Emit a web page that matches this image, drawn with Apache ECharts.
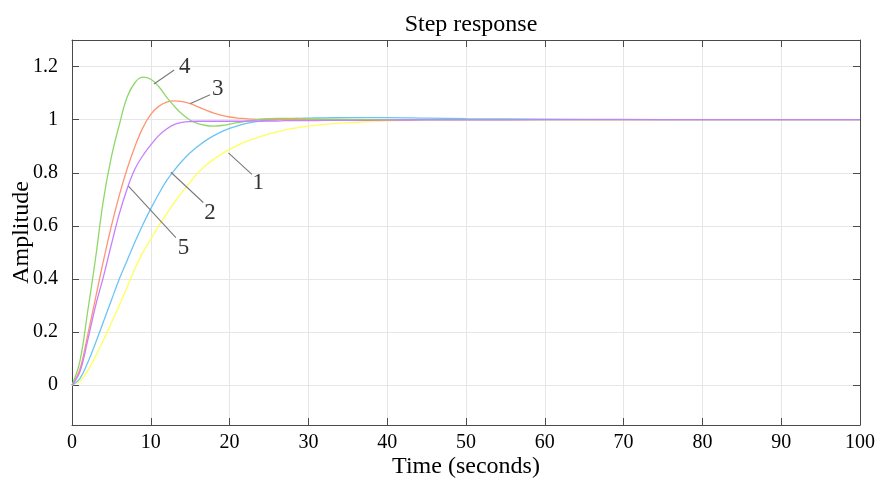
<!DOCTYPE html>
<html>
<head>
<meta charset="utf-8">
<script src="https://cdn.jsdelivr.net/npm/echarts@6/dist/echarts.min.js"></script>
<style>html,body{margin:0;padding:0;background:#fff}#chart{width:886px;height:480px}</style>
</head>
<body>
<div id="chart"></div>
<script>
const times = [0,1,2,3,4,5,6,7,8,9,10,11,12,13,14,15,16,17,18,19,20,21,22,23,24,25,26,27,28,29,30,32,35,40,45,50,60,70,80,90,100];
const resp1 = [0,0.015,0.055,0.11,0.17,0.235,0.30,0.37,0.44,0.50,0.55,0.60,0.645,0.688,0.728,0.765,0.80,0.828,0.851,0.871,0.888,0.903,0.916,0.927,0.937,0.946,0.954,0.961,0.967,0.972,0.976,0.982,0.989,0.995,0.998,0.999,1.0,1.0,1.0,1.0,1.0];
const resp2 = [0,0.025,0.085,0.16,0.24,0.32,0.40,0.47,0.54,0.605,0.665,0.72,0.77,0.81,0.845,0.875,0.90,0.922,0.94,0.955,0.967,0.977,0.985,0.991,0.995,0.998,1.0,1.002,1.004,1.005,1.006,1.007,1.008,1.008,1.006,1.004,1.002,1.001,1.0,1.0,1.0];
const resp3 = [0,0.06,0.19,0.33,0.47,0.60,0.715,0.815,0.90,0.97,1.02,1.05,1.066,1.071,1.068,1.06,1.048,1.036,1.025,1.016,1.01,1.006,1.004,1.002,1.001,1.001,1.001,1.001,1.001,1.0,1.0,1.0,1.0,1.0,1.0,1.0,1.0,1.0,1.0,1.0,1.0];
const resp4 = [0,0.09,0.28,0.48,0.70,0.86,0.98,1.085,1.14,1.16,1.152,1.125,1.085,1.05,1.02,0.998,0.985,0.978,0.976,0.978,0.983,0.989,0.994,0.998,1.002,1.004,1.005,1.005,1.005,1.004,1.003,1.002,1.001,1.0,1.0,1.0,1.0,1.0,1.0,1.0,1.0];
const resp5 = [0,0.05,0.17,0.30,0.41,0.53,0.645,0.74,0.815,0.865,0.905,0.94,0.965,0.982,0.99,0.993,0.994,0.994,0.994,0.994,0.994,0.994,0.994,0.995,0.995,0.995,0.995,0.996,0.996,0.996,0.996,0.997,0.997,0.998,0.999,0.999,1.0,1.0,1.0,1.0,1.0];

const curveNames = ['1','2','3','4','5'];
const curveColors = ['#ffff5a','#6cc4f5','#ff9670','#8ed869','#c77eff'];
const curveValues = [resp1, resp2, resp3, resp4, resp5];

// annotation leaders
const annoLabels = ['4','3','1','2','5'];
const annoStart = [[10.4,1.134],[14.97,1.060],[19.85,0.875],[12.55,0.802],[7.16,0.750]];
const annoEnd = [[12.97,1.187],[17.52,1.094],[22.83,0.794],[16.66,0.688],[13.18,0.556]];
const annoText = [[14.3,1.20],[18.5,1.115],[23.65,0.762],[17.5,0.650],[14.15,0.515]];

const FONT = 'Liberation Serif';
const AX = '#4a4a4a';

const series = [];
[0,1,2,3,4].forEach(i => {
  series.push({
    type: 'line', name: curveNames[i], smooth: 0.4, symbol: 'none',
    xAxisIndex: 0, yAxisIndex: 0,
    lineStyle: { color: curveColors[i], width: 1.3 },
    data: times.map((t, k) => [t, curveValues[i][k]]),
    z: 3
  });
});
annoLabels.forEach((lab, i) => {
  series.push({
    type: 'line', symbol: 'none', xAxisIndex: 0, yAxisIndex: 0,
    lineStyle: { color: '#7a7a7a', width: 1.1 },
    data: [annoStart[i], annoEnd[i]], z: 4, silent: true
  });
});
series.push({
  type: 'scatter', symbolSize: 0, xAxisIndex: 0, yAxisIndex: 0, z: 5,
  data: annoLabels.map((lab, i) => ({ name: lab, value: annoText[i] })),
  label: { show: true, position: 'inside', formatter: '{b}', fontFamily: FONT, fontSize: 23, color: '#000' }
});

const axisLineCommon = { show: true, onZero: false, lineStyle: { color: AX, width: 1 } };
const tickCommon = { show: true, inside: true, length: 7, lineStyle: { color: AX, width: 1 } };

const option = {
  backgroundColor: '#fff',
  animation: false,
  title: {
    text: 'Step response', left: 466, top: 8, textAlign: 'center',
    textStyle: { fontFamily: FONT, fontSize: 24, fontWeight: 'normal', color: '#000' }
  },
  grid: { left: 72, right: 26, top: 40, bottom: 55, containLabel: false, outerBoundsMode: 'none' },
  xAxis: [
    {
      type: 'value', min: 0, max: 100, interval: 10, position: 'bottom',
      axisLine: axisLineCommon, axisTick: tickCommon,
      axisLabel: { color: '#000', fontFamily: FONT, fontSize: 20, margin: 8 },
      splitLine: { show: true, lineStyle: { color: '#e6e6e6', width: 1 } },
      name: 'Time (seconds)', nameLocation: 'middle', nameGap: 30, nameMoveOverlap: false,
      nameTextStyle: { fontFamily: FONT, fontSize: 24, color: '#000' }
    },
    {
      type: 'value', min: 0, max: 100, interval: 10, position: 'top',
      axisLine: axisLineCommon, axisTick: tickCommon,
      axisLabel: { show: false }, splitLine: { show: false }
    }
  ],
  yAxis: [
    {
      type: 'value', min: -0.15, max: 1.3, splitNumber: 7, position: 'left',
      axisLine: axisLineCommon, axisTick: tickCommon,
      axisLabel: { color: '#000', fontFamily: FONT, fontSize: 20, margin: 14, showMinLabel: false, showMaxLabel: false },
      splitLine: { show: true, lineStyle: { color: '#e6e6e6', width: 1 } },
      name: 'Amplitude', nameLocation: 'middle', nameGap: 38, nameMoveOverlap: false,
      nameTextStyle: { fontFamily: FONT, fontSize: 24, color: '#000' }
    },
    {
      type: 'value', min: -0.15, max: 1.3, splitNumber: 7, position: 'right',
      axisLine: axisLineCommon, axisTick: tickCommon,
      axisLabel: { show: false }, splitLine: { show: false }
    }
  ],
  series: series
};

const chart = echarts.init(document.getElementById('chart'), null, { renderer: 'canvas' });
chart.setOption(option);
</script>
</body>
</html>
